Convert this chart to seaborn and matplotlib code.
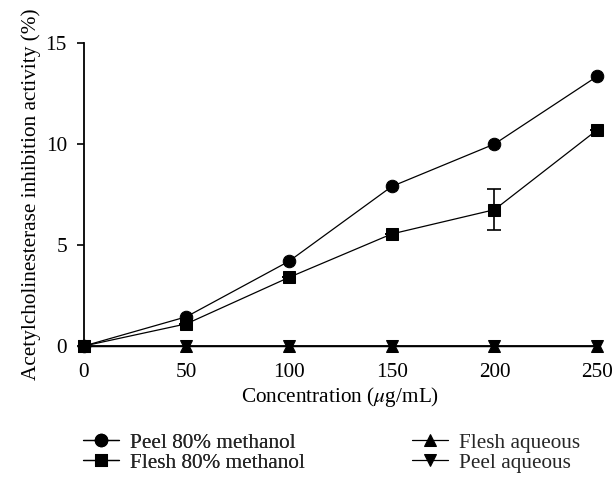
import matplotlib
matplotlib.use("Agg")
import matplotlib.pyplot as plt
import seaborn as sns
import pandas as pd
import numpy as np

concentration = [0, 50, 100, 150, 200, 250]
peel_methanol = [0, 1.45, 4.2, 7.9, 10.0, 13.35]
flesh_methanol = [0, 1.1, 3.4, 5.55, 6.75, 10.7]
flesh_methanol_err = [0, 0, 0, 0, 1.0, 0]
flesh_aqueous = [0, 0, 0, 0, 0, 0]
peel_aqueous = [0, 0, 0, 0, 0, 0]

series_names = ["Peel 80% methanol", "Flesh 80% methanol", "Flesh aqueous", "Peel aqueous"]
series_values = [peel_methanol, flesh_methanol, flesh_aqueous, peel_aqueous]
series_markers = ["o", "s", "^", "v"]

sns.set_theme(style="ticks")
plt.rcParams["font.family"] = ["Liberation Serif", "DejaVu Serif"]
plt.rcParams["mathtext.fontset"] = "stix"

FS = 15.3

fig = plt.figure(figsize=(6.15, 4.78), dpi=100)
ax = fig.add_axes([0.136, 0.276, 0.835, 0.634])

df = pd.DataFrame({
    "Concentration": concentration * 4,
    "Value": sum(series_values, []),
    "Series": sum([[n] * len(concentration) for n in series_names], []),
})

for name, marker in zip(series_names, series_markers):
    sub = df[df["Series"] == name]
    sns.lineplot(data=sub, x="Concentration", y="Value", ax=ax, color="black",
                 marker=marker, markersize=9, markeredgecolor="black",
                 linewidth=0.9, clip_on=False, label=name, legend=False, zorder=3)

ax.errorbar(concentration, flesh_methanol, yerr=flesh_methanol_err, fmt="none",
            ecolor="black", elinewidth=1.2, capsize=5, capthick=1.2, zorder=2)

ax.set_xlim(0, 250)
ax.set_ylim(0, 15)
ax.set_xticks(concentration)
ax.set_yticks([0, 5, 10, 15])
ax.tick_params(axis="both", labelsize=FS, length=5, width=1.2, colors="black", pad=7)
for s in ["top", "right"]:
    ax.spines[s].set_visible(False)
for s in ["left", "bottom"]:
    ax.spines[s].set_linewidth(1.3)
    ax.spines[s].set_color("black")

ax.set_xlabel("Concentration ($\\mu$g/mL)", fontsize=FS, color="black", labelpad=2)
ax.set_ylabel("Acetylcholinesterase inhibition activity (%)", fontsize=FS, color="black", labelpad=3)

h, l = ax.get_legend_handles_labels()
common = dict(frameon=False, fontsize=FS, handlelength=1.7, handletextpad=0.5,
              labelspacing=0.0, borderpad=0, borderaxespad=0, loc="center left")
leg1 = fig.legend(h[:2], l[:2], bbox_to_anchor=(0.135, 0.053), **common)
fig.add_artist(leg1)
leg2 = fig.legend(h[2:], l[2:], bbox_to_anchor=(0.670, 0.053), **common)

fig.savefig("out.png", dpi=100)
